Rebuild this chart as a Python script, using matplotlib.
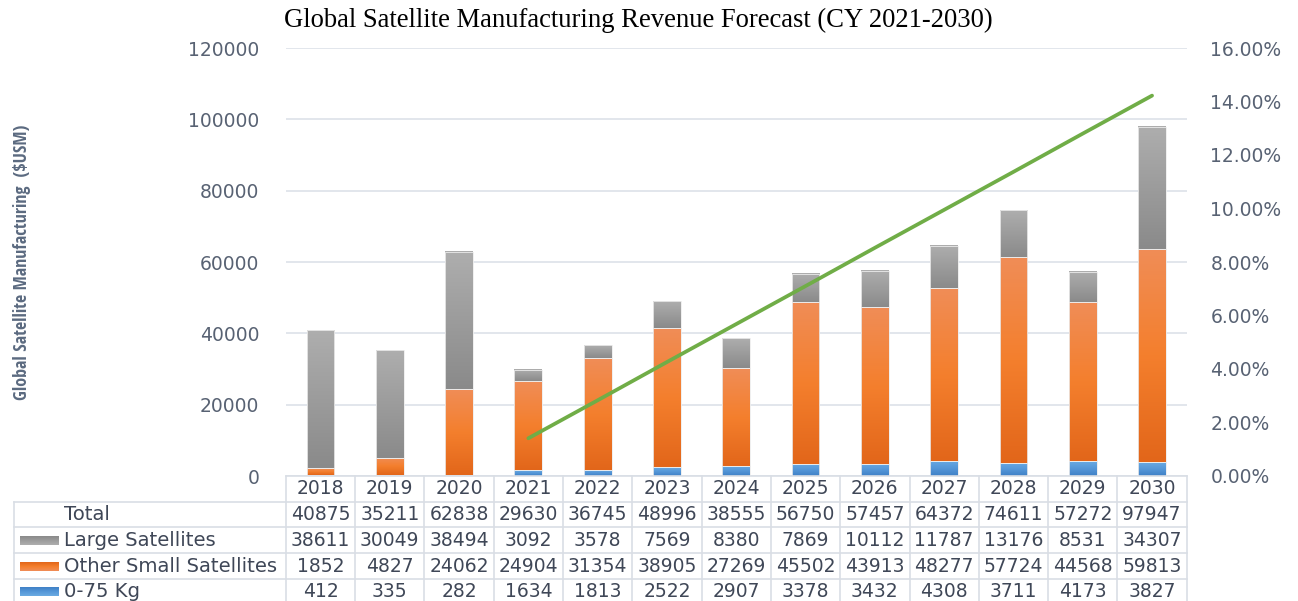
import numpy as np
import matplotlib
matplotlib.use("Agg")
import matplotlib.pyplot as plt
from matplotlib.colors import LinearSegmentedColormap
from matplotlib import transforms
from matplotlib import font_manager as fm

# ---------------- data ----------------
years = ["2018", "2019", "2020", "2021", "2022", "2023", "2024",
         "2025", "2026", "2027", "2028", "2029", "2030"]
total = [40875, 35211, 62838, 29630, 36745, 48996, 38555,
         56750, 57457, 64372, 74611, 57272, 97947]
large_sat = [38611, 30049, 38494, 3092, 3578, 7569, 8380,
             7869, 10112, 11787, 13176, 8531, 34307]
other_small = [1852, 4827, 24062, 24904, 31354, 38905, 27269,
               45502, 43913, 48277, 57724, 44568, 59813]
small_0_75 = [412, 335, 282, 1634, 1813, 2522, 2907,
              3378, 3432, 4308, 3711, 4173, 3827]
# growth line (right axis, %) for 2021-2030
growth_years = ["2021", "2022", "2023", "2024", "2025",
                "2026", "2027", "2028", "2029", "2030"]
growth_pct = [1.41, 2.83, 4.26, 5.68, 7.10, 8.53, 9.95, 11.37, 12.80, 14.22]

row_labels = ["Total", "Large Satellites", "Other Small Satellites", "0-75 Kg"]
title = "Global Satellite Manufacturing Revenue Forecast (CY 2021-2030)"
ylabel = "Global Satellite Manufacturing  ($USM)"
left_ticks = [0, 20000, 40000, 60000, 80000, 100000, 120000]
right_ticks = [0, 2, 4, 6, 8, 10, 12, 14, 16]

# ---------------- style ----------------
W, H = 1298, 601
TICK_C = "#586273"
TAB_C = "#3f4757"
GRID_C = "#dfe4ea"
grad_gray = ["#aeaeae", "#9c9c9c", "#8a8a8a"]
grad_orange = ["#f08d57", "#f47f2d", "#e2661a"]
grad_blue = ["#6aaae2", "#5597d8", "#3f80c6"]
key_cols = [None, grad_gray, grad_orange, grad_blue]

plt.rcParams["font.family"] = ["DejaVu Sans"]

# pick a narrow font for the y label if available
names = {f.name for f in fm.fontManager.ttflist}
narrow = None
for cand in ["Liberation Sans Narrow", "DejaVu Sans Condensed", "Open Sans Condensed",
             "Roboto Condensed"]:
    if cand in names:
        narrow = cand
        break
has_dv_cond = any(f.name == "DejaVu Sans" and f.stretch in ("condensed", "semi-condensed", 300, 400)
                  and "Condensed" in f.fname for f in fm.fontManager.ttflist)

fig = plt.figure(figsize=(W / 100, H / 100), dpi=100)
x_left, x_right = 285.8, 1186.7
y_bot, y_top = 476.0, 48.0
ax = fig.add_axes([x_left / W, 1 - y_bot / H, (x_right - x_left) / W, (y_bot - y_top) / H])
ax2 = ax.twinx()

x = np.arange(len(years))
bw = 0.40

def gradient_bars(bars, colors):
    cmap = LinearSegmentedColormap.from_list("g", colors[::-1])
    grad = np.linspace(0, 1, 256).reshape(-1, 1)
    for b in bars:
        x0, y0 = b.get_x(), b.get_y()
        w, h = b.get_width(), b.get_height()
        if h <= 0:
            continue
        ax.imshow(grad, cmap=cmap, origin="lower", aspect="auto",
                  extent=(x0, x0 + w, y0, y0 + h), zorder=2,
                  interpolation="bilinear")
        b.set_facecolor("none")
        b.set_edgecolor("#ececec")
        b.set_linewidth(0.6)
        b.set_zorder(3)

s0 = np.array(small_0_75)
s1 = np.array(other_small)
s2 = np.array(large_sat)
b_blue = ax.bar(x, s0, bw)
b_orange = ax.bar(x, s1, bw, bottom=s0)
b_gray = ax.bar(x, s2, bw, bottom=s0 + s1)
gradient_bars(b_blue, grad_blue)
gradient_bars(b_orange, grad_orange)
gradient_bars(b_gray, grad_gray)

ax.set_xlim(-0.5, len(years) - 0.5)
ax.set_ylim(0, 120000)
ax.set_yticks(left_ticks)
ax.set_yticklabels([str(t) for t in left_ticks])
ax.grid(axis="y", color=GRID_C, lw=1.3, zorder=0)
ax.set_axisbelow(True)
ax.set_xticks([])
ax.tick_params(axis="y", length=0, pad=19, labelsize=13.5, labelcolor=TICK_C)
for sp in ax.spines.values():
    sp.set_visible(False)

# growth line
gx = [years.index(y) for y in growth_years]
ax2.plot(gx, growth_pct, color="#70ad47", lw=2.7, solid_capstyle="round", zorder=5)
ax2.set_ylim(0, 16)
ax2.set_yticks(right_ticks)
ax2.set_yticklabels([f"{t:.2f}%" for t in right_ticks])
ax2.tick_params(axis="y", length=0, pad=17, labelsize=13.5, labelcolor=TICK_C)
for sp in ax2.spines.values():
    sp.set_visible(False)
ax2.set_xlim(-0.5, len(years) - 0.5)

# title and ylabel
fig.text(638 / W, 1 - 20 / H, title, ha="center", va="center",
         fontsize=19.2, family="Liberation Serif", color="black")
if narrow:
    fig.text(22 / W, 1 - 262 / H, ylabel, ha="center", va="center", rotation=90,
             fontsize=13, family=narrow, color="#5b6a80")
else:
    fig.text(22 / W, 1 - 262 / H, ylabel, ha="center", va="center", rotation=90,
             fontsize=12.5, family="DejaVu Sans", stretch="condensed", color="#5b6a80")
print("narrow font:", narrow, has_dv_cond)

# ---------------- data table ----------------
tab = fig.add_axes([0, 0, 1, 1])
tab.set_xlim(0, W)
tab.set_ylim(H, 0)
tab.axis("off")
tab.patch.set_alpha(0)
bt = transforms.blended_transform_factory(ax.transData, tab.transData)

row_edges = [476.0, 501.7, 527.3, 553.3, 579.0, 604.7]
n = len(years)
LC = "#d9dee5"
lw = 1.2
for ye in row_edges:
    tab.plot([-0.5, n - 0.5], [ye, ye], color=LC, lw=lw, transform=bt, clip_on=False)
for ye in row_edges[1:]:
    tab.plot([14, x_left], [ye, ye], color=LC, lw=lw, clip_on=False)
tab.plot([14, 14], [row_edges[1], row_edges[-1]], color=LC, lw=lw, clip_on=False)
for i in range(n + 1):
    tab.plot([i - 0.5, i - 0.5], [row_edges[0], row_edges[-1]], color=LC, lw=lw,
             transform=bt, clip_on=False)

rows = [total, large_sat, other_small, small_0_75]
row_cy = [(row_edges[k] + row_edges[k + 1]) / 2 for k in range(len(row_edges) - 1)]
for i, yv in enumerate(years):
    tab.text(i, row_cy[0], yv, transform=bt, ha="center", va="center",
             fontsize=13.5, color=TAB_C)
for r, vals in enumerate(rows):
    cy = row_cy[r + 1]
    for i, v in enumerate(vals):
        tab.text(i, cy, str(v), transform=bt, ha="center", va="center",
                 fontsize=13.5, color=TAB_C)
    tab.text(64.5, cy, row_labels[r], ha="left", va="center", fontsize=14.1, color=TAB_C)
    kc = key_cols[r]
    if kc is not None:
        cmap = LinearSegmentedColormap.from_list("k", kc[::-1])
        tab.imshow(np.linspace(0, 1, 32).reshape(-1, 1), cmap=cmap, origin="upper",
                   aspect="auto", extent=(20, 59, cy + 4.5, cy - 4.5),
                   interpolation="bilinear")
tab.set_xlim(0, W)
tab.set_ylim(H, 0)

fig.savefig("out.png", dpi=100)
